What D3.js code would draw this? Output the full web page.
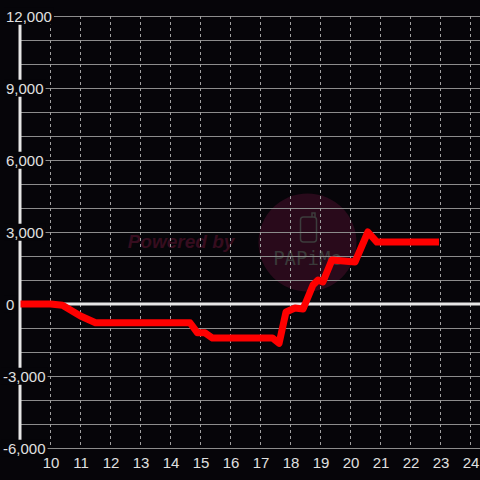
<!DOCTYPE html>
<html>
<head>
<meta charset="utf-8">
<script src="https://cdn.jsdelivr.net/npm/d3@7"></script>
<style>
  html, body { margin: 0; padding: 0; background: #060509; }
  svg { display: block; }
</style>
</head>
<body>
<div id="chart"></div>
<script>
// hour of day and running value
const hours = [9, 10, 10.4, 11, 11.5, 14.65, 14.9, 15.15, 15.4, 17.4, 17.62, 17.85, 18.15, 18.42, 18.75, 18.92, 19.08, 19.38, 20.15, 20.58, 20.88, 22.95];
const values = [0, 0, -50, -500, -780, -780, -1200, -1200, -1420, -1420, -1640, -330, -170, -210, 790, 1000, 920, 1830, 1750, 3000, 2580, 2580];
const xTicks = [10, 11, 12, 13, 14, 15, 16, 17, 18, 19, 20, 21, 22, 23, 24];
const yTicks = [-6000, -3000, 0, 3000, 6000, 9000, 12000];
const yGrid = d3.range(-6000, 12001, 1000);

const W = 480, H = 480;
const bg = '#060509';

const svg = d3.select('#chart').append('svg')
  .attr('width', W)
  .attr('height', H);

svg.append('rect').attr('width', W).attr('height', H).attr('fill', bg);

const x = d3.scaleLinear().domain([9, 24]).range([20.5, 470.5]);
const y = d3.scaleLinear().domain([-6000, 12000]).range([448, 16]);

// watermark, sits under the grid
const wm = svg.append('g');
wm.append('text')
  .attr('x', 181).attr('y', 248)
  .attr('text-anchor', 'middle')
  .attr('font-family', 'Liberation Sans, Arial, sans-serif')
  .attr('font-size', 19).attr('font-weight', 'bold').attr('font-style', 'italic')
  .attr('fill', '#360d1f')
  .text('Powered by');
wm.append('circle')
  .attr('cx', 307.5).attr('cy', 242.5).attr('r', 49)
  .attr('fill', '#290a1b');
wm.append('rect')
  .attr('x', 300.5).attr('y', 217).attr('width', 16).attr('height', 25).attr('rx', 3)
  .attr('fill', 'none').attr('stroke', '#3c3c3c').attr('stroke-width', 1.5);
wm.append('path')
  .attr('d', 'M312,217 L312,213 L315,213 L315,217')
  .attr('fill', 'none').attr('stroke', '#3c3c3c').attr('stroke-width', 1.5);
wm.append('text')
  .attr('x', 307.5).attr('y', 265)
  .attr('text-anchor', 'middle')
  .attr('font-family', 'DejaVu Sans Mono, monospace')
  .attr('font-size', 19)
  .attr('fill', '#3a3a3a')
  .text('PAPiMe');

// grid
svg.append('g').selectAll('line')
  .data(yGrid.filter(d => d !== 0))
  .join('line')
  .attr('x1', 20).attr('x2', W)
  .attr('y1', d => Math.round(y(d)) + 0.5).attr('y2', d => Math.round(y(d)) + 0.5)
  .attr('stroke', '#8c8c8c').attr('stroke-width', 1);

svg.append('g').selectAll('line')
  .data(xTicks)
  .join('line')
  .attr('x1', d => x(d)).attr('x2', d => x(d))
  .attr('y1', 16).attr('y2', 448)
  .attr('stroke', '#a0a0a0').attr('stroke-width', 1)
  .attr('stroke-dasharray', '3,3');

// y axis line and zero line
svg.append('line')
  .attr('x1', 20).attr('x2', 20).attr('y1', 16).attr('y2', 448)
  .attr('stroke', '#e6e6e6').attr('stroke-width', 3);
svg.append('line')
  .attr('x1', 20).attr('x2', W).attr('y1', y(0)).attr('y2', y(0))
  .attr('stroke', '#e6e6e6').attr('stroke-width', 3);

const fmt = d3.formatLocale({ decimal: '.', thousands: ',', grouping: [3], currency: ['$', ''], minus: '-' }).format(',');

// y labels with a dark box behind
const yAxis = svg.append('g')
  .call(d3.axisLeft(y).tickValues(yTicks).tickFormat(fmt).tickSize(0));
yAxis.select('.domain').remove();
yAxis.selectAll('text')
  .attr('x', d => d < 0 ? 3 : 6)
  .attr('dy', '0.35em')
  .attr('text-anchor', 'start')
  .attr('font-family', 'Liberation Sans, Arial, sans-serif')
  .attr('font-size', 15)
  .attr('fill', '#e0e0e0');
yAxis.selectAll('.tick').each(function () {
  const t = d3.select(this).select('text');
  const b = t.node().getBBox();
  d3.select(this).insert('rect', 'text')
    .attr('x', b.x - 2).attr('y', b.y)
    .attr('width', b.width + 4).attr('height', b.height)
    .attr('fill', bg);
});

// x labels
const xAxis = svg.append('g')
  .attr('transform', 'translate(0,448)')
  .call(d3.axisBottom(x).tickValues(xTicks).tickFormat(d3.format('d')).tickSize(0).tickPadding(9));
xAxis.select('.domain').remove();
xAxis.selectAll('text')
  .attr('font-family', 'Liberation Sans, Arial, sans-serif')
  .attr('font-size', 15)
  .attr('fill', '#e0e0e0');

// the series
const pts = hours.map((h, i) => [h, values[i]]);
svg.append('path')
  .datum(pts)
  .attr('d', d3.line().x(d => x(d[0])).y(d => y(d[1])))
  .attr('fill', 'none')
  .attr('stroke', '#ff0000')
  .attr('stroke-width', 7)
  .attr('stroke-linejoin', 'round')
  .attr('stroke-linecap', 'butt');
</script>
</body>
</html>
